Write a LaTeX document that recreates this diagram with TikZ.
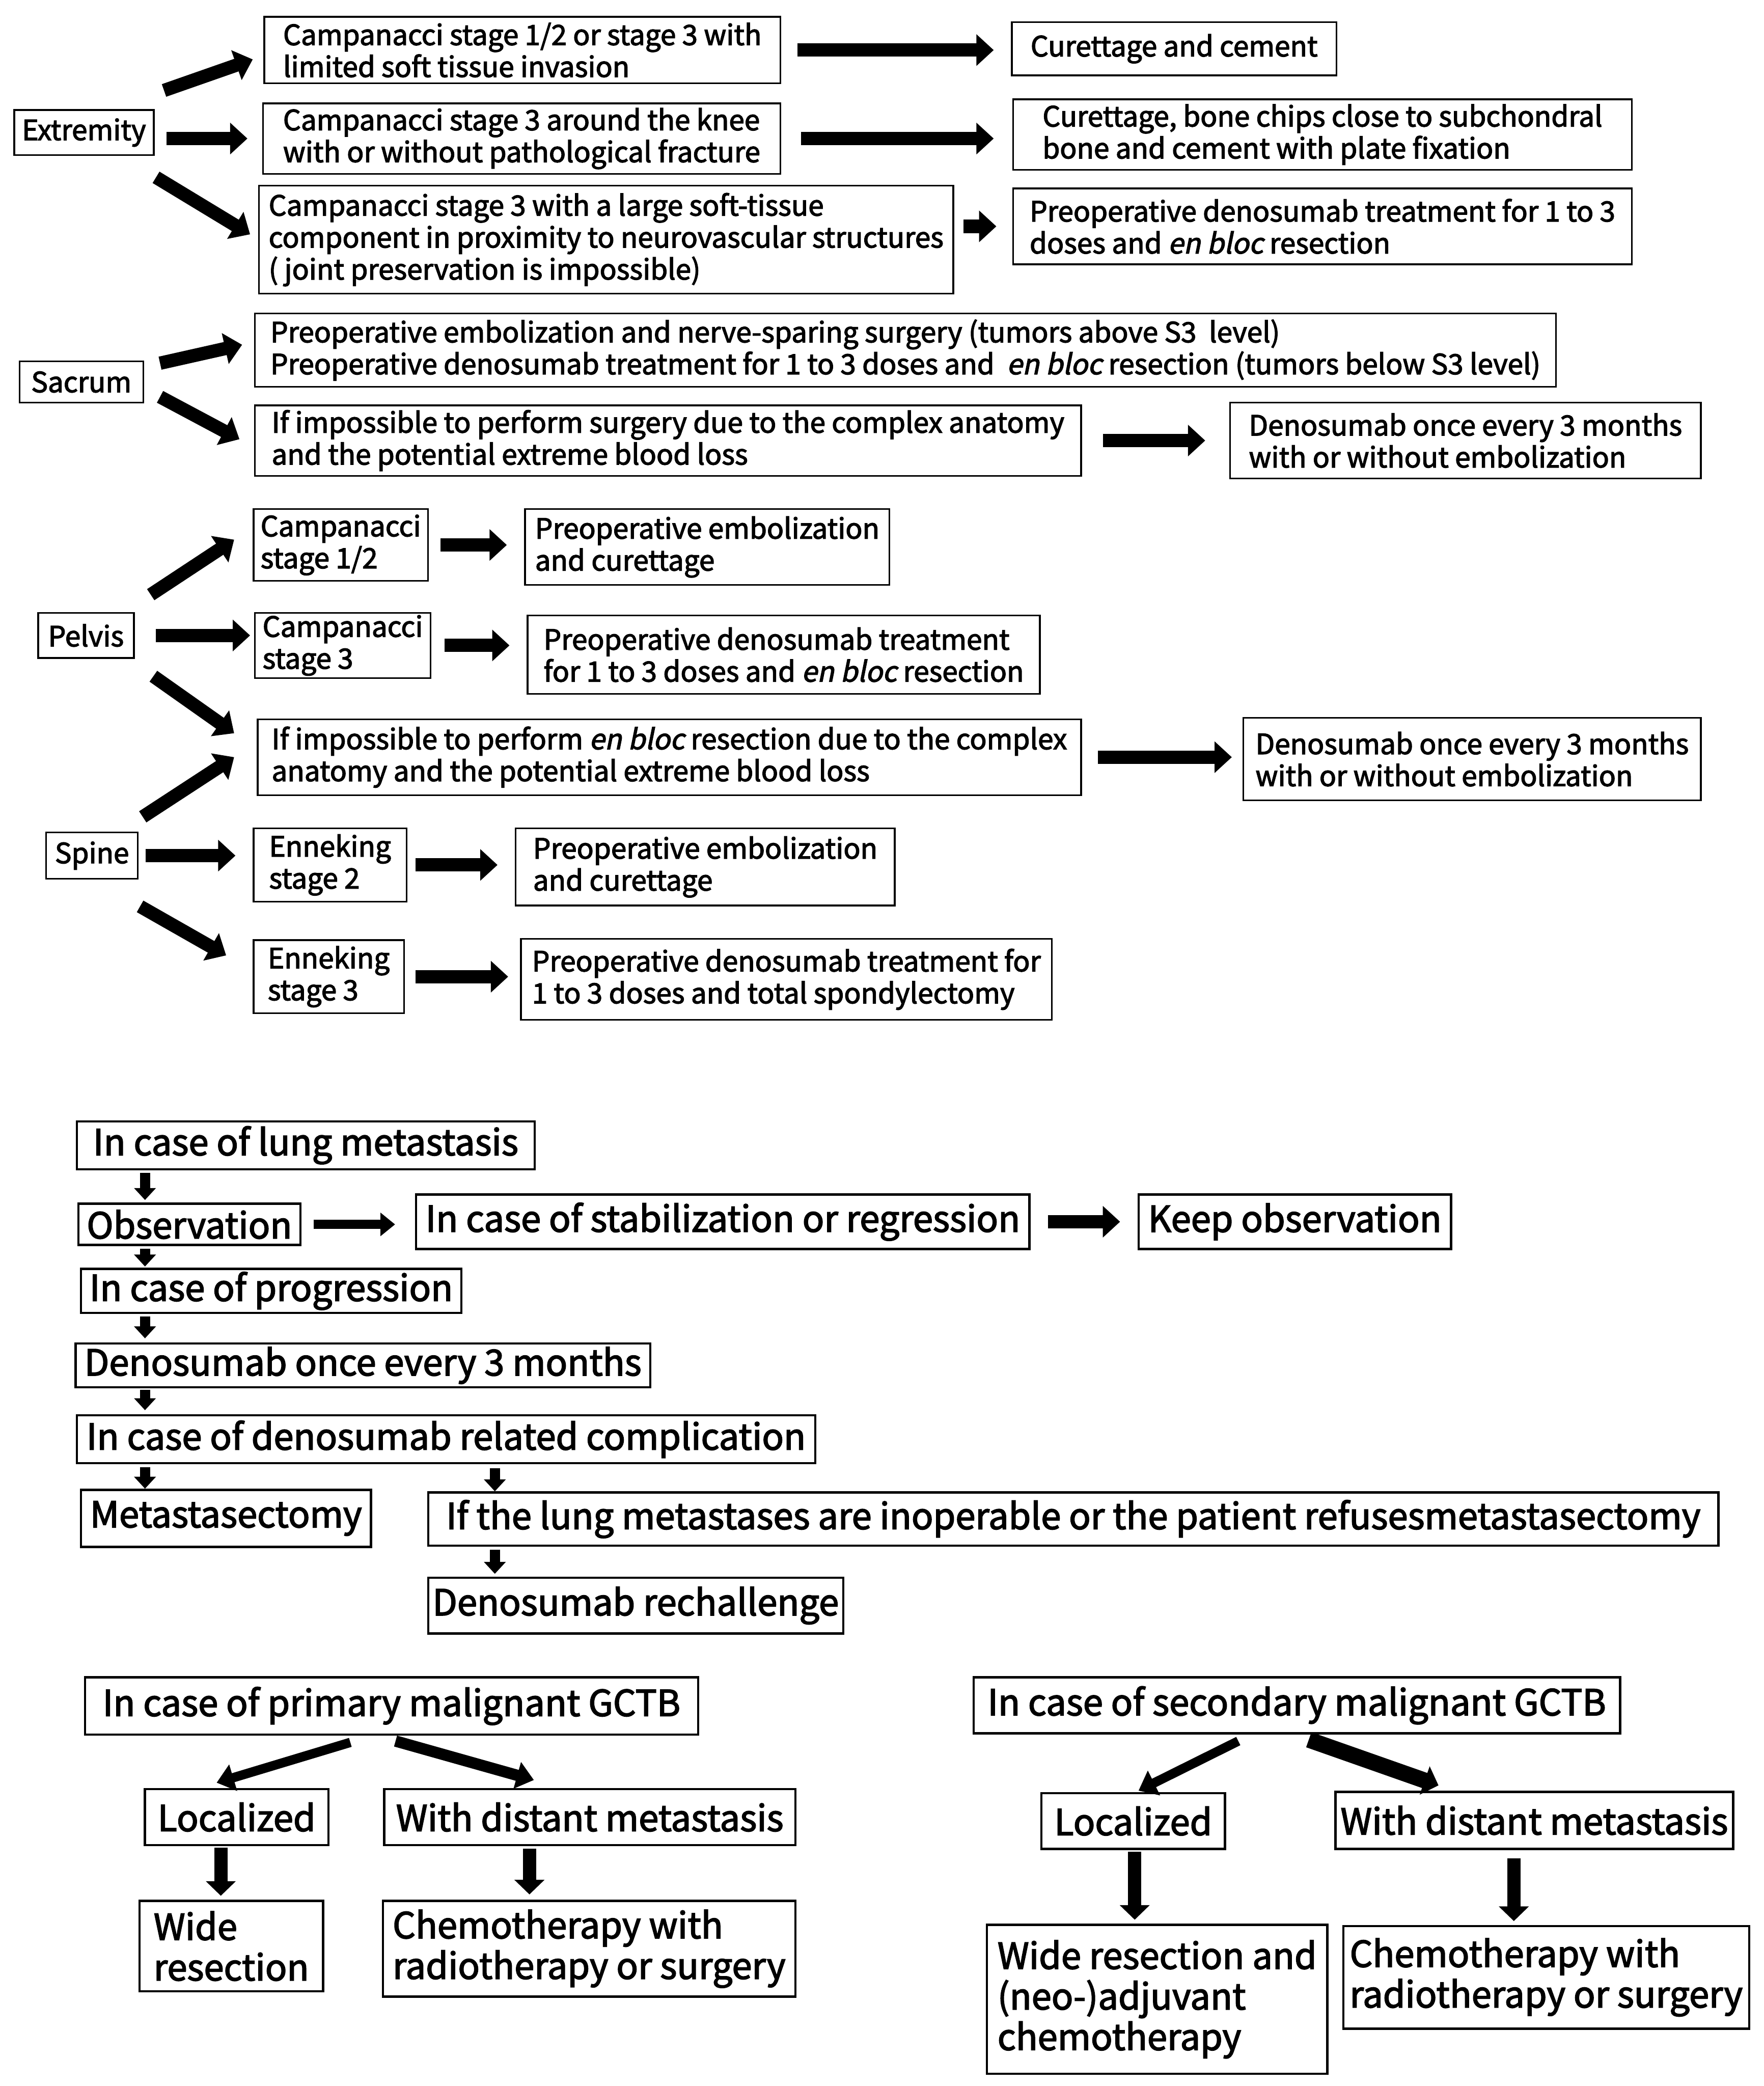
\documentclass[tikz,border=0pt]{standalone}
\usepackage{fontspec}
\setmainfont{Noto Sans CJK JP}[AutoFakeSlant=0.2, FakeBold=2.5]
\usetikzlibrary{arrows.meta,calc}
\tikzset{every picture/.style={line width=0.75pt}}

\begin{document}
\begin{tikzpicture}[x=1pt, y=-1pt,
    box/.style={draw, line width=1.3pt, anchor=north west, align=left, inner sep=0pt},
    wh/.style 2 args={minimum width=#1pt, minimum height=#2pt},
    upper/.style={font=\fontsize{21}{24}\selectfont},
    lung/.style={font=\fontsize{27}{30}\selectfont, line width=1.7pt},
    malig/.style={font=\fontsize{27}{30.5}\selectfont, line width=1.7pt},
    bigarrow/.style={line width=10pt, -{Triangle[length=13pt, width=23pt]}},
    midarrow/.style={line width=7pt, -{Triangle[length=11pt, width=17pt]}},
    smallarrow/.style={line width=7.5pt, -{Triangle[length=9pt, width=16pt]}},
    slimarrow/.style={line width=7pt, -{Triangle[length=13pt, width=20pt]}},
    fatarrow/.style={line width=10pt, -{Triangle[length=11pt, width=22pt]}}]

    \useasboundingbox (0,0) rectangle (1326,1568);

    % --- Extremity ---
    \node[box, upper, wh={105}{34}] (ext) at (10,82) {Extremity};
    \node[box, upper, wh={388}{50}] (c1) at (198,12) {Campanacci stage 1/2 or stage 3 with\\limited soft tissue invasion};
    \node[box, upper, wh={389}{53}] (c2) at (197,77) {Campanacci stage 3 around the knee\\with or without pathological fracture};
    \node[box, upper, wh={522}{81}] (c3) at (194,139) {Campanacci stage 3 with a large soft-tissue\\component in proximity to neurovascular structures\\( joint preservation is impossible)};
    \node[box, upper, wh={244}{40}] (r1) at (760,16) {Curettage and cement};
    \node[box, upper, wh={465}{53}] (r2) at (761,74) {Curettage, bone chips close to subchondral\\bone and cement with plate fixation};
    \node[box, upper, wh={465}{57}] (r3) at (761,141) {Preoperative denosumab treatment for 1 to 3\\doses and \textit{en bloc} resection};

    \draw[bigarrow] ($(ext.north east)+(7,-14)$) -- ($(c1.west)+(-8,7)$);
    \draw[bigarrow, shorten <=9pt, shorten >=11pt] (ext.east |- c2.west) -- (c2.west);
    \draw[bigarrow] ($(ext.south east)+(1,16)$) -- ($(c3.west)+(-6,-4)$);
    \draw[bigarrow, shorten <=12pt, shorten >=13pt] (c1.east) -- (c1.east -| r1.west);
    \draw[bigarrow, shorten <=15pt, shorten >=14pt] (c2.east) -- (c2.east -| r2.west);
    \draw[bigarrow, shorten <=7pt, shorten >=12pt] (c3.east |- r3.west) -- (r3.west);

    % --- Sacrum ---
    \node[box, upper, wh={93}{31}] (sac) at (14,271) {Sacrum};
    \node[box, upper, wh={978}{55}] (s1) at (191,235) {Preoperative embolization and nerve-sparing surgery (tumors above S3~ level)\\Preoperative denosumab treatment for 1 to 3 doses and~ \textit{en bloc} resection (tumors below S3 level)};
    \node[box, upper, wh={621}{53}] (s2) at (191,304) {If impossible to perform surgery due to the complex anatomy\\and the potential extreme blood loss};
    \node[box, upper, wh={354}{57}] (s3) at (924,302) {Denosumab once every 3 months\\with or without embolization};

    \draw[bigarrow] ($(sac.north east)+(12,2)$) -- ($(s1.west)+(-9,-4)$);
    \draw[bigarrow] ($(sac.south east)+(12,-5)$) -- ($(s2.west)+(-11,-1)$);
    \draw[bigarrow, shorten <=16pt, shorten >=18pt] (s2.east) -- (s3.west);

    % --- Pelvis ---
    \node[box, upper, wh={72}{34}] (pel) at (28,460) {Pelvis};
    \node[box, upper, wh={131}{54}] (p1) at (190,382) {Campanacci\\stage 1/2};
    \node[box, upper, wh={132}{49}] (p2) at (191,460) {Campanacci\\stage 3};
    \node[box, upper, wh={274}{57}] (pr1) at (394,382) {Preoperative embolization\\and curettage};
    \node[box, upper, wh={385}{59}] (pr2) at (396,462) {Preoperative denosumab treatment\\for 1 to 3 doses and \textit{en bloc} resection};
    \node[box, upper, wh={619}{57}] (pc) at (193,540) {If impossible to perform \textit{en bloc} resection due to the complex\\anatomy and the potential extreme blood loss};
    \node[box, upper, wh={344}{62}] (pd) at (934,539) {Denosumab once every 3 months\\with or without embolization};

    \draw[bigarrow] ($(pel.north east)+(12,-13)$) -- ($(p1.west)+(-14,-4)$);
    \draw[bigarrow, shorten <=16pt, shorten >=3pt] (pel.east) -- (pel.east -| p2.west);
    \draw[bigarrow] ($(pel.south east)+(14,13)$) -- ($(pc.west)+(-17,-18)$);
    \draw[bigarrow, shorten <=9pt, shorten >=13pt] (p1.east) -- (p1.east -| pr1.west);
    \draw[bigarrow, shorten <=10pt, shorten >=13pt] (p2.east) -- (p2.east -| pr2.west);
    \draw[bigarrow, shorten <=12pt, shorten >=8pt] (pc.east) -- (pc.east -| pd.west);

    % --- Spine ---
    \node[box, upper, wh={69}{35}] (spn) at (34,625) {Spine};
    \node[box, upper, wh={115}{55}] (e2) at (190,622) {Enneking\\stage 2};
    \node[box, upper, wh={113}{55}] (e3) at (190,706) {Enneking\\stage 3};
    \node[box, upper, wh={285}{58}] (er2) at (387,622) {Preoperative embolization\\and curettage};
    \node[box, upper, wh={399}{61}] (er3) at (391,705) {Preoperative denosumab treatment for\\1 to 3 doses and total spondylectomy};

    \draw[bigarrow] ($(spn.north east)+(3,-11)$) -- ($(pc.west)+(-17,0)$);
    \draw[bigarrow, shorten <=5pt, shorten >=13pt] (spn.east) -- (spn.east -| e2.west);
    \draw[bigarrow] ($(spn.south east)+(1,20)$) -- ($(e3.west)+(-20,-16)$);
    \draw[bigarrow, shorten <=6pt, shorten >=13pt] (e2.east) -- (e2.east -| er2.west);
    \draw[bigarrow, shorten <=8pt, shorten >=9pt] (e3.east) -- (e3.east -| er3.west);

    % --- lung metastasis ---
    \node[box, lung, wh={344}{36}] (lm) at (57,842) {In case of lung metastasis};
    \node[box, lung, wh={167}{31}] (ob) at (58,904) {Observation};
    \node[box, lung, wh={461}{41}] (st) at (312,897) {In case of stabilization or regression};
    \node[box, lung, wh={235}{41}] (ko) at (855,897) {Keep observation};
    \node[box, lung, wh={286}{33}] (pg) at (60,953) {In case of progression};
    \node[box, lung, wh={432}{33}] (dn) at (56,1009) {Denosumab once every 3 months};
    \node[box, lung, wh={555}{36}] (cx) at (57,1063) {In case of denosumab related complication};
    \node[box, lung, wh={218}{43}] (mt) at (60,1119) {Metastasectomy};
    \node[box, lung, wh={970}{40}] (inop) at (321,1121) {If the lung metastases are inoperable or the patient refusesmetastasectomy};
    \node[box, lung, wh={312}{42}] (rc) at (321,1185) {Denosumab rechallenge};

    \coordinate (lx) at (109,0);
    \coordinate (rx) at (372,0);
    \draw[smallarrow, shorten <=2pt, shorten >=2pt] (lx |- lm.south) -- (lx |- ob.north);
    \draw[midarrow, shorten <=9pt, shorten >=15pt] (ob.east) -- (ob.east -| st.west);
    \draw[bigarrow, shorten <=13pt, shorten >=13pt] (st.east) -- (st.east -| ko.west);
    \draw[smallarrow, shorten <=2pt, shorten >=1pt] (lx |- ob.south) -- (lx |- pg.north);
    \draw[smallarrow, shorten <=2pt, shorten >=3pt] (lx |- pg.south) -- (lx |- dn.north);
    \draw[smallarrow, shorten <=1pt, shorten >=3pt] (lx |- dn.south) -- (lx |- cx.north);
    \draw[smallarrow, shorten <=2pt, shorten >=0pt] (lx |- cx.south) -- (lx |- mt.north);
    \draw[smallarrow, shorten <=3pt, shorten >=0pt] (rx |- cx.south) -- (rx |- inop.north);
    \draw[smallarrow, shorten <=2pt, shorten >=2pt] (rx |- inop.south) -- (rx |- rc.north);

    % --- malignant GCTB ---
    \node[box, malig, wh={461}{43}] (pm) at (63,1260) {In case of primary malignant GCTB};
    \node[box, malig, wh={138}{42}] (pl) at (108,1344) {Localized};
    \node[box, malig, wh={309}{42}] (pw) at (288,1344) {With distant metastasis};
    \node[box, malig, wh={138}{68}] (pwr) at (104,1428) {Wide\\resection};
    \node[box, malig, wh={310}{72}] (pch) at (287,1428) {Chemotherapy with\\radiotherapy or surgery};
    \node[box, malig, wh={486}{42}] (sm) at (731,1260) {In case of secondary malignant GCTB};
    \node[box, malig, wh={138}{42}] (sl) at (782,1347) {Localized};
    \node[box, malig, wh={299}{43}] (sw) at (1003,1346) {With distant metastasis};
    \node[box, malig, wh={256}{112}] (swr) at (741,1446) {Wide resection and\\(neo-)adjuvant\\chemotherapy};
    \node[box, malig, wh={305}{77}] (sch) at (1009,1447) {Chemotherapy with\\radiotherapy or surgery};

    \coordinate (mx1) at (166,0);
    \coordinate (mx2) at (398,0);
    \coordinate (mx3) at (853,0);
    \coordinate (mx4) at (1138,0);
    \draw[slimarrow] ($(pm.south)+(-31,5)$) -- ($(pl.north)+(-15,-4)$);
    \draw[slimarrow, line width=8.5pt] ($(pm.south)+(3,4)$) -- ($(pw.north)+(-42,-6)$);
    \draw[fatarrow, shorten <=1pt, shorten >=3pt] (mx1 |- pl.south) -- (mx1 |- pwr.north);
    \draw[fatarrow, shorten <=2pt, shorten >=4pt] (mx2 |- pw.south) -- (mx2 |- pch.north);
    \draw[slimarrow] ($(sm.south)+(-44,5)$) -- ($(sl.north)+(4,-1)$);
    \draw[fatarrow, line width=12pt] ($(sm.south)+(9,4)$) -- ($(sw.north)+(-72,-4)$);
    \draw[fatarrow, shorten <=1pt, shorten >=3pt] (mx3 |- sl.south) -- (mx3 |- swr.north);
    \draw[fatarrow, shorten <=6pt, shorten >=3pt] (mx4 |- sw.south) -- (mx4 |- sch.north);

\end{tikzpicture}
\end{document}
